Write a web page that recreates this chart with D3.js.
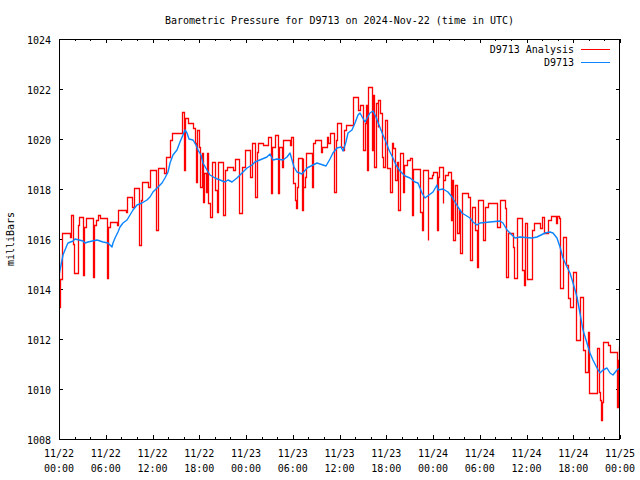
<!DOCTYPE html>
<html>
<head>
<meta charset="utf-8">
<script src="https://cdn.jsdelivr.net/npm/d3@7"></script>
<style>
html, body { margin: 0; padding: 0; background: #fff; }
svg { display: block; }
text { font-family: "DejaVu Sans Mono", "Liberation Mono", monospace; font-size: 10px; fill: #000; }
</style>
</head>
<body>
<svg id="chart" width="640" height="480"></svg>
<script>
// ---------- data ----------
const chartTitle = "Barometric Pressure for D9713 on 2024-Nov-22 (time in UTC)";
const yAxisLabel = "milliBars";
const seriesNames = ["D9713 Analysis", "D9713"];
const seriesColors = ["#ff0000", "#0a84ff"];
const startUtc = Date.UTC(2024, 10, 22, 0, 0);
const endUtc = Date.UTC(2024, 10, 25, 0, 0);
const yTickValues = [1008, 1010, 1012, 1014, 1016, 1018, 1020, 1022, 1024];

// Analysis series (hours since 2024-11-22 00:00 UTC, mb) - stepped
const analysisHours = [
  0, 0.06, 0.13, 0.35, 0.42, 1.41, 1.54, 1.84, 1.96, 2.4,
  2.57, 3.12, 3.25, 3.43, 4.32, 4.53, 4.71, 5.04, 5.26, 6.2,
  6.33, 6.55, 7.4, 7.61, 8.56, 8.69, 9.41, 9.63, 10.31, 10.52,
  10.69, 11.46, 11.68, 12.41, 12.67, 13.48, 13.69, 14.25, 14.46, 15.74,
  16.08, 16.17, 16.6, 17.24, 17.45, 17.58, 17.75, 18.0, 18.1, 18.31,
  18.44, 18.61, 18.87, 18.95, 19.16, 19.38, 19.6, 20.02, 20.24, 20.45,
  21.0, 21.3, 21.52, 22.37, 22.59, 23.14, 23.45, 23.87, 24.51, 24.73,
  25.15, 25.37, 25.58, 26.22, 26.86, 27.15, 27.28, 27.72, 28.15, 28.28,
  28.59, 28.71, 29.65, 29.73, 30.07, 30.29, 30.42, 30.59, 30.71, 31.15,
  31.27, 31.35, 31.57, 31.7, 32.51, 32.64, 32.85, 33.58, 33.71, 34.36,
  34.56, 34.78, 35.33, 35.55, 35.72, 36.19, 36.41, 36.58, 36.83, 37.69,
  38.41, 38.63, 39.05, 39.23, 39.4, 39.49, 39.69, 40.13, 40.34, 40.47,
  40.68, 40.9, 40.98, 41.2, 41.41, 41.62, 41.84, 42.06, 42.48, 42.7,
  42.9, 43.12, 43.34, 43.55, 43.76, 44.19, 44.28, 44.62, 45.05, 45.26,
  45.47, 46.33, 46.54, 46.75, 47.31, 47.4, 47.83, 48.04, 48.47, 48.68,
  48.81, 49.24, 49.32, 49.54, 49.96, 50.31, 50.4, 50.6, 50.82, 51.12,
  51.37, 51.46, 51.68, 52.53, 52.75, 52.96, 53.39, 53.6, 53.81, 54.45,
  54.67, 55.1, 56.17, 56.25, 56.6, 57.24, 57.37, 57.67, 58.3, 58.43,
  58.74, 59.38, 59.68, 59.81, 60.06, 60.7, 60.9, 61.73, 61.95, 62.24,
  62.8, 63.1, 63.78, 63.95, 64.21, 64.3, 64.64, 65.07, 65.36, 65.58,
  66.01, 66.31, 66.86, 67.21, 67.29, 67.46, 67.93, 68.06, 69.0, 69.26,
  69.43, 69.52, 69.64, 69.86, 70.5, 70.71, 71.57, 71.65, 71.79, 71.9,
  72
];
const analysisPressure = [
  1015.4, 1013.3, 1014.4, 1015.16, 1016.24, 1016.08, 1016.96, 1015.8, 1014.64, 1016.56,
  1016.88, 1014.56, 1016.48, 1016.84, 1014.48, 1016.56, 1016.76, 1016.96, 1016.84, 1014.44,
  1016.48, 1016.68, 1016.56, 1017.16, 1017.08, 1017.68, 1017.28, 1018.04, 1015.76, 1017.56,
  1018.28, 1018.08, 1018.76, 1016.36, 1018.84, 1018.64, 1019.3, 1019.96, 1020.23, 1021.09,
  1018.76, 1020.83, 1020.63, 1020.43, 1019.83, 1018.29, 1020.36, 1019.69, 1018.09, 1019.43,
  1017.49, 1018.63, 1017.89, 1019.43, 1017.43, 1016.89, 1019.09, 1017.96, 1017.09, 1019.09,
  1016.96, 1018.76, 1018.89, 1018.76, 1019.19, 1017.03, 1018.89, 1019.56, 1018.49, 1019.83,
  1017.69, 1019.49, 1019.83, 1019.76, 1020.09, 1017.83, 1019.69, 1020.16, 1017.83, 1019.69,
  1018.89, 1019.96, 1019.76, 1020.09, 1018.23, 1017.56, 1017.23, 1018.09, 1019.23, 1017.16,
  1019.23, 1018.09, 1018.49, 1019.43, 1018.09, 1019.83, 1019.96, 1019.49, 1019.69, 1020.09,
  1019.83, 1020.23, 1017.89, 1019.96, 1020.63, 1019.69, 1019.56, 1020.36, 1020.56, 1021.69,
  1021.16, 1021.36, 1019.56, 1020.63, 1021.36, 1018.76, 1022.09, 1019.56, 1021.76, 1018.89,
  1021.43, 1020.49, 1021.56, 1021.03, 1019.29, 1018.89, 1020.76, 1018.83, 1017.89, 1019.83,
  1019.63, 1018.36, 1019.09, 1017.16, 1019.43, 1017.89, 1018.96, 1019.16, 1019.23, 1016.96,
  1018.79, 1017.09, 1016.36, 1018.76, 1015.96, 1018.43, 1018.56, 1018.69, 1016.36, 1018.49,
  1018.87, 1017.43, 1018.36, 1018.56, 1018.69, 1016.76, 1018.36, 1015.96, 1018.16, 1016.23,
  1017.16, 1015.43, 1017.83, 1017.69, 1015.16, 1017.29, 1016.36, 1014.89, 1017.56, 1015.96,
  1017.29, 1017.45, 1017.16, 1016.49, 1017.56, 1017.23, 1014.49, 1016.23, 1015.69, 1014.43,
  1016.83, 1014.76, 1014.16, 1016.66, 1014.41, 1016.36, 1016.64, 1016.43, 1016.87, 1016.23,
  1016.76, 1016.92, 1016.63, 1016.92, 1016.83, 1014.03, 1016.09, 1014.96, 1013.63, 1013.29,
  1014.69, 1011.96, 1013.69, 1012.49, 1011.56, 1010.69, 1012.29, 1009.83, 1011.63, 1009.89,
  1009.56, 1008.76, 1009.49, 1011.89, 1011.76, 1011.49, 1010.36, 1009.29, 1011.16, 1011.69,
  1011.69
];

// Observed station series (hours since 2024-11-22 00:00 UTC, mb)
const stationHours = [
  0, 0.13, 0.39, 0.51, 0.77, 1.03, 1.16, 1.8, 2.05, 3.08,
  3.34, 3.72, 4.88, 5.65, 6.29, 6.55, 6.8, 6.93, 7.19, 7.57,
  7.83, 8.21, 8.73, 9.11, 9.5, 10.01, 10.65, 11.29, 11.68, 12.06,
  12.58, 13.22, 13.6, 13.99, 14.25, 14.63, 15.14, 15.53, 15.91, 16.17,
  16.43, 16.68, 17.2, 17.58, 17.84, 18.22, 18.48, 18.99, 19.38, 20.02,
  20.66, 21.3, 21.69, 22.2, 22.84, 23.49, 24.13, 24.77, 25.15, 26.69,
  27.08, 27.46, 27.98, 28.75, 29.26, 29.65, 30.16, 30.54, 31.19, 31.83,
  33.11, 34.27, 34.78, 35.16, 35.68, 36.19, 36.45, 36.83, 37.09, 37.6,
  37.99, 38.37, 38.63, 39.27, 39.91, 40.3, 40.68, 41.07, 41.58, 41.97,
  42.35, 42.86, 43.25, 43.76, 44.41, 45.05, 45.69, 46.07, 46.59, 46.97,
  48.0, 48.51, 48.64, 49.28, 49.92, 50.44, 50.82, 51.21, 51.72, 52.75,
  53.13, 53.64, 54.03, 56.6, 56.98, 57.5, 58.14, 58.52, 59.16, 60.7,
  61.35, 62.37, 63.01, 63.4, 63.91, 64.3, 64.68, 65.2, 65.58, 65.97,
  66.48, 66.86, 67.25, 67.76, 68.15, 68.53, 69.05, 69.43, 69.82, 70.33,
  70.72, 71.1, 71.61, 72.0
];
const stationPressure = [
  1014.56, 1014.76, 1015.16, 1015.36, 1015.56, 1015.76, 1015.84, 1015.92, 1016.0, 1015.92,
  1015.84, 1015.88, 1015.96, 1015.88, 1015.84, 1015.76, 1015.68, 1015.84, 1016.04, 1016.28,
  1016.48, 1016.64, 1016.76, 1016.96, 1017.16, 1017.36, 1017.44, 1017.56, 1017.68, 1017.88,
  1018.04, 1018.24, 1018.44, 1018.68, 1019.04, 1019.36, 1019.56, 1019.88, 1020.16, 1020.36,
  1020.24, 1020.0, 1019.96, 1019.76, 1019.56, 1019.36, 1019.04, 1018.76, 1018.56, 1018.44,
  1018.36, 1018.28, 1018.36, 1018.28, 1018.44, 1018.64, 1018.84, 1018.96, 1019.08, 1019.28,
  1019.4, 1019.16, 1019.2, 1019.16, 1019.28, 1019.44, 1018.88, 1018.68, 1018.6, 1018.84,
  1019.04, 1018.92, 1019.2, 1019.44, 1019.64, 1019.68, 1019.52, 1019.88, 1020.24, 1020.36,
  1020.64, 1020.96, 1021.04, 1020.68, 1021.04, 1021.12, 1020.88, 1020.56, 1020.16, 1019.88,
  1019.56, 1019.24, 1018.96, 1018.72, 1018.52, 1018.44, 1018.28, 1018.24, 1017.84, 1017.64,
  1017.88, 1018.16, 1017.96, 1018.0, 1017.88, 1017.68, 1017.48, 1017.28, 1017.04, 1016.84,
  1016.68, 1016.56, 1016.64, 1016.72, 1016.64, 1016.36, 1016.16, 1016.04, 1016.08, 1016.04,
  1016.08, 1016.24, 1016.28, 1016.24, 1016.04, 1015.68, 1015.24, 1014.88, 1014.64, 1014.24,
  1013.68, 1013.04, 1012.36, 1011.84, 1011.44, 1011.16, 1010.84, 1010.64, 1010.76, 1010.84,
  1010.64, 1010.56, 1010.76, 1010.84
];

// ---------- chart ----------
const plot = { left: 59, right: 620, top: 39, bottom: 439 };
const svg = d3.select("#chart");

const x = d3.scaleUtc().domain([new Date(startUtc), new Date(endUtc)]).range([plot.left, plot.right]);
const y = d3.scaleLinear().domain([1008, 1024]).range([plot.bottom, plot.top]);

const toDate = h => new Date(startUtc + h * 3600 * 1000);
const zipSeries = (hours, vals) => d3.range(Math.min(hours.length, vals.length)).map(i => ({ t: toDate(hours[i]), v: vals[i] }));
const analysisData = zipSeries(analysisHours, analysisPressure);
const stationData = zipSeries(stationHours, stationPressure);
const px = v => Math.round(v) + 0.5;

// title
svg.append("text").attr("x", (plot.left + plot.right) / 2).attr("y", 24)
  .attr("text-anchor", "middle").text(chartTitle);

// y label
svg.append("text").attr("transform", `translate(14,${(plot.top + plot.bottom) / 2}) rotate(-90)`)
  .attr("text-anchor", "middle").text(yAxisLabel);

// clip
svg.append("clipPath").attr("id", "clip").append("rect")
  .attr("x", plot.left).attr("y", plot.top)
  .attr("width", plot.right - plot.left).attr("height", plot.bottom - plot.top + 1);

const majorX = d3.utcHour.every(6).range(new Date(startUtc), new Date(endUtc + 1));
const minorX = d3.utcHour.every(2).range(new Date(startUtc), new Date(endUtc + 1));

// axes (inward ticks, mirrored)
const gx = svg.append("g").attr("shape-rendering", "crispEdges");
gx.append("g").attr("transform", `translate(0,${plot.bottom})`)
  .call(d3.axisBottom(x).tickValues(minorX).tickSize(-2).tickFormat(""));
gx.append("g").attr("transform", `translate(0,${plot.bottom})`)
  .call(d3.axisBottom(x).tickValues(majorX).tickSize(-4).tickFormat(""));
gx.append("g").attr("transform", `translate(0,${plot.top})`)
  .call(d3.axisTop(x).tickValues(minorX).tickSize(-2).tickFormat(""));
gx.append("g").attr("transform", `translate(0,${plot.top})`)
  .call(d3.axisTop(x).tickValues(majorX).tickSize(-4).tickFormat(""));
gx.append("g").attr("transform", `translate(${plot.left},0)`)
  .call(d3.axisLeft(y).tickValues(yTickValues).tickSize(-4).tickFormat(""));
gx.append("g").attr("transform", `translate(${plot.right},0)`)
  .call(d3.axisRight(y).tickValues(yTickValues).tickSize(-4).tickFormat(""));
gx.selectAll(".domain").remove();
gx.selectAll(".tick line").attr("stroke", "#000");

// x tick labels (two lines)
const fmtDay = d3.utcFormat("%m/%d"), fmtTime = d3.utcFormat("%H:%M");
const xl = svg.append("g").selectAll("text").data(majorX).join("text")
  .attr("text-anchor", "middle");
xl.append("tspan").attr("x", d => x(d)).attr("y", plot.bottom + 18).text(fmtDay);
xl.append("tspan").attr("x", d => x(d)).attr("y", plot.bottom + 33).text(fmtTime);

// y tick labels
svg.append("g").selectAll("text").data(yTickValues).join("text")
  .attr("x", plot.left - 8).attr("y", d => y(d) + 5)
  .attr("text-anchor", "end").text(d => d);

// series
const lines = svg.append("g").attr("clip-path", "url(#clip)");
lines.append("path").datum(analysisData)
  .attr("fill", "none").attr("stroke", seriesColors[0]).attr("stroke-width", 1.3)
  .attr("stroke-linecap", "square").attr("stroke-linejoin", "miter")
  .attr("d", d3.line().x(d => px(x(d.t))).y(d => px(y(d.v))).curve(d3.curveStepAfter));
lines.append("path").datum(stationData)
  .attr("fill", "none").attr("stroke", seriesColors[1]).attr("stroke-width", 1.4)
  .attr("stroke-linejoin", "round")
  .attr("d", d3.line().x(d => x(d.t)).y(d => y(d.v)));

// frame
svg.append("rect").attr("x", plot.left + 0.5).attr("y", plot.top + 0.5)
  .attr("width", plot.right - plot.left - 1).attr("height", plot.bottom - plot.top)
  .attr("fill", "none").attr("stroke", "#000").attr("stroke-width", 1)
  .attr("shape-rendering", "crispEdges");

// legend
const legend = svg.append("g");
seriesNames.forEach((name, i) => {
  const ly = 49 + i * 13;
  legend.append("text").attr("x", 574).attr("y", ly + 4).attr("text-anchor", "end").text(name);
  legend.append("line").attr("x1", 581).attr("x2", 610).attr("y1", ly + 0.5).attr("y2", ly + 0.5)
    .attr("stroke", seriesColors[i]).attr("stroke-width", 1.3).attr("shape-rendering", "crispEdges");
});
</script>
</body>
</html>
